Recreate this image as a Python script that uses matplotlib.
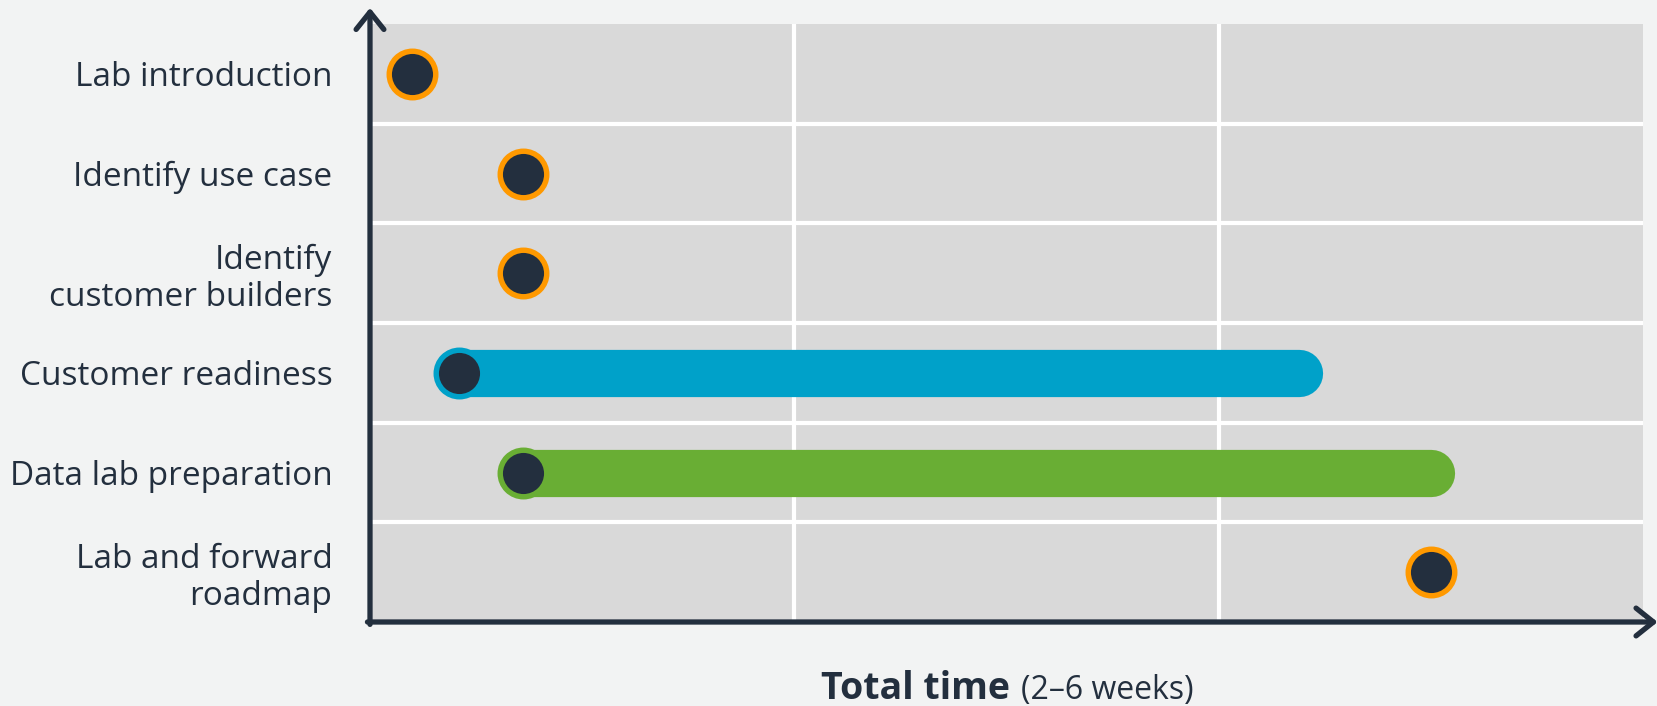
import matplotlib
matplotlib.use("Agg")
import matplotlib.pyplot as plt

# ─────────────────────────────────────────────
# Datos: fases del laboratorio (x en columnas de tiempo, 0–3)
# ─────────────────────────────────────────────
tareas = [
    "Lab introduction",
    "Identify use case",
    "Identify\ncustomer builders",
    "Customer readiness",
    "Data lab preparation",
    "Lab and forward\nroadmap",
]
inicio = [0.10, 0.36, 0.36, 0.21, 0.36, 2.50]
fin = [0.10, 0.36, 0.36, 2.19, 2.50, 2.50]
color_barra = [None, None, None, "#00A1C9", "#69AE34", None]

FONDO = "#F2F3F3"
GRIS = "#D9D9D9"
OSCURO = "#232F3E"
NARANJA = "#FF9900"

plt.rcParams["font.family"] = ["Open Sans", "DejaVu Sans"]

fig = plt.figure(figsize=(16.58, 7.06), dpi=100, facecolor=FONDO)
ax = fig.add_axes([370 / 1658, 1 - 622 / 706, 1273 / 1658, 598 / 706])
ax.set_facecolor(GRIS)
ax.set_xlim(0, 3)
ax.set_ylim(5.5, -0.5)

# grilla blanca: separadores de filas y columnas
for y in [0.5, 1.5, 2.5, 3.5, 4.5]:
    ax.axhline(y, color="white", lw=3, zorder=1)
for x in [1, 2]:
    ax.axvline(x, color="white", lw=3, zorder=1)

for i, (a, b, c) in enumerate(zip(inicio, fin, color_barra)):
    borde = NARANJA
    if c is not None:
        ax.plot([a, b], [i, i], color=c, lw=34, solid_capstyle="round", zorder=2)
        borde = c
    ax.plot(a, i, "o", ms=33.5, mfc=OSCURO, mec=borde, mew=3.9, zorder=3)

ax.set_yticks(range(len(tareas)))
ax.set_yticklabels(tareas, fontsize=24, color=OSCURO, linespacing=1.15)
ax.tick_params(axis="y", length=0, pad=27)
ax.set_xticks([])
for s in ax.spines.values():
    s.set_visible(False)

# ejes con flecha
flecha = dict(arrowstyle="->,head_length=1.25,head_width=1.0", color=OSCURO,
              lw=3.8, capstyle="round", joinstyle="round", shrinkA=0, shrinkB=0)
ax.annotate("", xy=(0, 1.027), xytext=(0, -0.004), xycoords="axes fraction",
            arrowprops=flecha, annotation_clip=False)
ax.annotate("", xy=(1.0115, 0), xytext=(-0.002, 0), xycoords="axes fraction",
            arrowprops=flecha, annotation_clip=False)

# título del eje x
fig.text(1010 / 1658, 1 - 699 / 706, "Total time", fontsize=27, fontweight="bold",
         color=OSCURO, ha="right", va="baseline")
fig.text(1021 / 1658, 1 - 699 / 706, "(2–6 weeks)", fontsize=23,
         color=OSCURO, ha="left", va="baseline")

fig.savefig("out.png", dpi=100, facecolor=FONDO)
